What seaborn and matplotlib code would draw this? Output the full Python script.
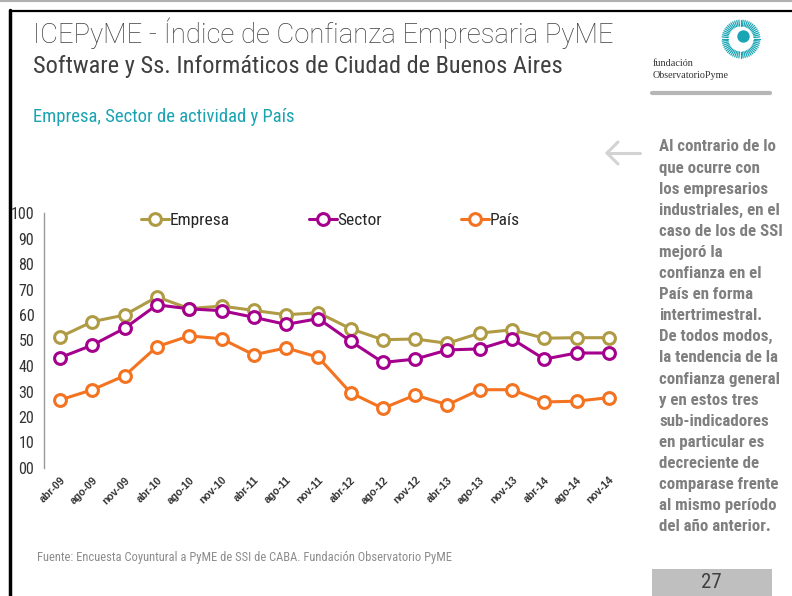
import numpy as np
import pandas as pd
import matplotlib
matplotlib.use("Agg")
import matplotlib.pyplot as plt
import seaborn as sns
from matplotlib import font_manager as fm
from matplotlib.lines import Line2D
from matplotlib.patches import Rectangle, Circle

# ---------------- data ----------------
periods = ["abr-09", "ago-09", "nov-09", "abr-10", "ago-10", "nov-10", "abr-11", "ago-11",
           "nov-11", "abr-12", "ago-12", "nov-12", "abr-13", "ago-13", "nov-13", "abr-14",
           "ago-14", "nov-14"]
empresa = [51.4, 57.4, 60.0, 67.1, 62.5, 63.5, 61.8, 60.1, 60.9, 54.6, 50.3, 50.6, 48.9,
           52.9, 54.2, 50.9, 51.1, 51.1]
sector = [43.3, 48.2, 54.8, 64.0, 62.4, 61.7, 59.1, 56.3, 58.6, 49.7, 41.4, 42.7, 46.3,
          46.7, 50.6, 42.7, 45.1, 45.1]
pais = [26.7, 30.7, 36.2, 47.6, 51.8, 50.7, 44.4, 47.1, 43.4, 29.5, 23.4, 28.6, 24.8,
        30.7, 30.7, 25.9, 26.2, 27.6]
series_names = ["Empresa", "Sector", "País"]
series_colors = ["#B09B45", "#A5008D", "#F37321"]
y_ticks = [0, 10, 20, 30, 40, 50, 60, 70, 80, 90, 100]

# ---------------- fonts ----------------
sns.set_style("white")
installed = {f.name for f in fm.fontManager.ttflist}


def pick(*names):
    for n in names:
        if n in installed:
            return n
    return "DejaVu Sans"


NARROW = pick("Arial Narrow", "Liberation Sans Narrow", "Roboto Condensed", "PT Sans Narrow",
              "Archivo Narrow")
SANS = pick("Arial", "Liberation Sans", "DejaVu Sans")
LIGHT = pick("Roboto", "Liberation Sans")
SERIF = pick("Liberation Serif", "DejaVu Serif")
plt.rcParams["font.family"] = [NARROW, "DejaVu Sans"]

W, H = 792, 596
fig = plt.figure(figsize=(W / 100, H / 100), dpi=100)
fig.patch.set_facecolor("white")


def fx(x):
    return x / W


def fy(y):
    return 1 - y / H


# ---------------- chart ----------------
ax = fig.add_axes([fx(44), fy(468), fx(625) - fx(44), fy(213) - fy(468)])
ax.set_facecolor("none")

df = pd.DataFrame({
    "pos": list(range(len(periods))) * 3,
    "valor": empresa + sector + pais,
    "serie": [series_names[0]] * len(periods) + [series_names[1]] * len(periods)
             + [series_names[2]] * len(periods),
})
for name, col in zip(series_names, series_colors):
    sub = df[df["serie"] == name]
    sns.lineplot(data=sub, x="pos", y="valor", color=col, marker="o", markersize=8.5,
                 markeredgewidth=2.2, markerfacecolor="white", markeredgecolor=col,
                 linewidth=2.2, ax=ax, legend=False, clip_on=False)
for ln in ax.lines:
    ln.set_markerfacecolor("white")

ax.set_xlim(-0.5, len(periods) - 0.5)
ax.set_ylim(0, 100)
ax.set_yticks(y_ticks)
ax.set_yticklabels([f"{v:02d}" for v in y_ticks], fontsize=11.5, color="#333333")
ax.set_xticks(range(len(periods)))
ax.set_xticklabels(periods, rotation=45, ha="right", rotation_mode="anchor",
                   fontsize=7.6, color="#333333", family=[SANS, "DejaVu Sans"],
                   fontweight="bold")
ax.tick_params(axis="y", direction="out", length=4, width=1, color="#999999", pad=3)
ax.tick_params(axis="x", length=0, pad=5)
ax.set_xlabel("")
ax.set_ylabel("")
for s in ["top", "right", "bottom"]:
    ax.spines[s].set_visible(False)
ax.spines["left"].set_color("#999999")
ax.spines["left"].set_linewidth(1)
ax.grid(False)

handles = [Line2D([0], [0], color=c, lw=2.2, marker="o", markersize=8.5,
                  markerfacecolor="white", markeredgecolor=c, markeredgewidth=2.2)
           for c in series_colors]
fig.legend(handles, series_names, loc="center left", bbox_to_anchor=(fx(141), fy(220)),
           ncol=3, frameon=False, fontsize=12.5, handlelength=1.6, handletextpad=0.05,
           columnspacing=4.55, borderaxespad=0, borderpad=0)

# ---------------- texts ----------------
fig.text(fx(33), fy(33), "ICEPyME - Índice de Confianza Empresaria PyME",
         fontsize=19.8, color="#404040", va="center", ha="left",
         family=[LIGHT, "DejaVu Sans"], fontweight="light")
fig.text(fx(33), fy(67), "Software y Ss. Informáticos de Ciudad de Buenos Aires",
         fontsize=17.6, color="#404040", va="center", ha="left")
fig.text(fx(33), fy(117), "Empresa, Sector de actividad y País",
         fontsize=13.4, color="#1AA3B2", va="center", ha="left")

side_lines = ["Al contrario de lo", "que ocurre con", "los empresarios",
              "industriales, en el", "caso de los de SSI", "mejoró la",
              "confianza en el", "País en forma", "intertrimestral.",
              "De todos modos,", "la tendencia de la", "confianza general",
              "y en estos tres", "sub-indicadores", "en particular es",
              "decreciente de", "comparase frente", "al mismo período",
              "del año anterior."]
for i, t in enumerate(side_lines):
    fig.text(fx(659), fy(147 + i * 21.1), t, fontsize=12.2, fontweight="bold",
             color="#7F7F7F", va="center", ha="left")

fig.text(fx(37), fy(558),
         "Fuente: Encuesta Coyuntural a PyME de SSI de CABA. Fundación Observatorio PyME",
         fontsize=9.0, color="#8C8C8C", va="center", ha="left")

# back arrow
arrow_col = "#D3D3D3"
fig.add_artist(Line2D([fx(607), fx(640)], [fy(153), fy(153)], color=arrow_col, lw=2.2))
fig.add_artist(Line2D([fx(607), fx(618)], [fy(153), fy(142)], color=arrow_col, lw=2.2,
                      solid_capstyle="round"))
fig.add_artist(Line2D([fx(607), fx(618)], [fy(153), fy(164)], color=arrow_col, lw=2.2,
                      solid_capstyle="round"))

# page number box
fig.add_artist(Rectangle((fx(652), fy(596)), fx(772) - fx(652), fy(569) - fy(596),
                         transform=fig.transFigure, facecolor="#BFBFBF", edgecolor="none"))
fig.text(fx(711), fy(583), "27", fontsize=15, color="#404040", ha="center", va="center")

# frame
fig.add_artist(Line2D([fx(10), fx(10)], [fy(10), fy(596)], color="black", lw=2.5))
fig.add_artist(Line2D([fx(10), fx(792)], [fy(11), fy(11)], color="black", lw=1.6))
fig.add_artist(Line2D([fx(0), fx(792)], [fy(1), fy(1)], color="#B0B0B0", lw=1.5))

# logo
cx, cy = 741, 39
logo = fig.add_axes([fx(cx - 22), fy(cy + 22), fx(44), fy(0) - fy(44)])
logo.set_xlim(-22, 22)
logo.set_ylim(-22, 22)
logo.set_aspect("equal")
logo.axis("off")
for a in np.linspace(0, 2 * np.pi, 56, endpoint=False):
    logo.plot([13 * np.cos(a), 19 * np.cos(a)], [13 * np.sin(a), 19 * np.sin(a)],
              color="#1AA5B5", lw=0.9)
logo.add_patch(Circle((2.5, 2.5), 5.5, color="#1AA5B5"))
fig.text(fx(653), fy(63), "fundación", fontsize=7.3, color="#333333",
         family=[SERIF, "DejaVu Serif"], va="center", ha="left")
fig.text(fx(653), fy(76), "ObservatorioPyme", fontsize=7.3, color="#333333",
         family=[SERIF, "DejaVu Serif"], va="center", ha="left")
fig.add_artist(Line2D([fx(652), fx(770)], [fy(93), fy(93)], color="#B5B5B5", lw=3))

fig.savefig("out.png", dpi=100, facecolor="white")
